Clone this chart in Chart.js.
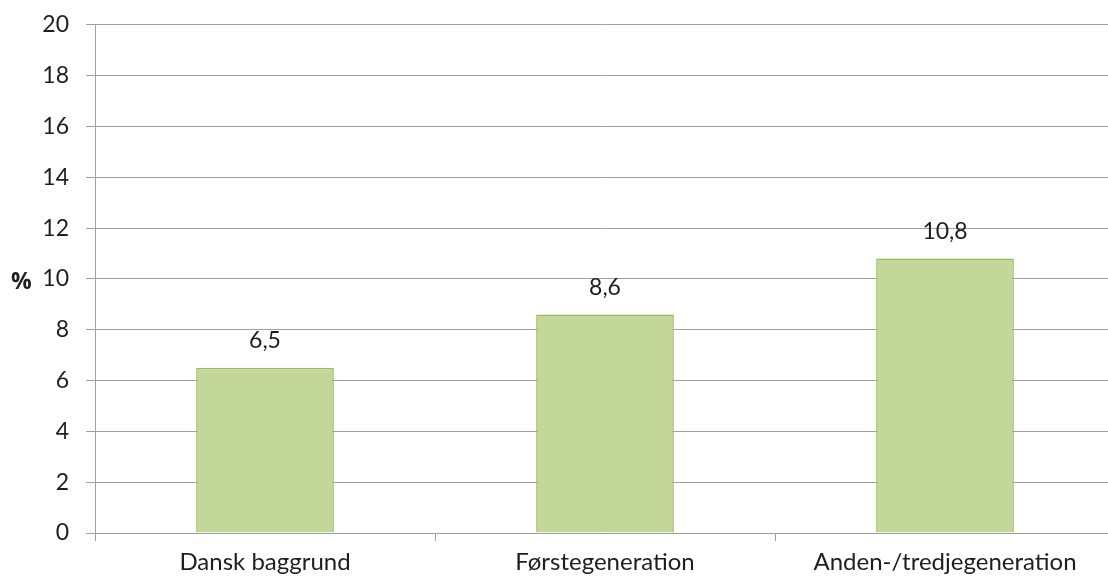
<!DOCTYPE html>
<html>
<head>
<meta charset="utf-8">
<script src="https://cdn.jsdelivr.net/npm/chart.js@4.4.1/dist/chart.umd.min.js"></script>
<style>
  html, body { margin: 0; padding: 0; background: #fff; overflow: hidden; }
  #wrap { width: 1120px; height: 585px; margin-top: -6px; }
  canvas { display: block; }
</style>
</head>
<body>
<div id="wrap"><canvas id="c" width="1120" height="585"></canvas></div>
<script>
const categories = ['Dansk baggrund', 'Førstegeneration', 'Anden-/tredjegeneration'];
const shares = [6.5, 8.6, 10.8];
const yTicks = [0, 2, 4, 6, 8, 10, 12, 14, 16, 18, 20];

const FONT = 'Lato, "Noto Sans", sans-serif';
const GRID = '#a0a0a0';
const TEXT = '#1e1e1e';

// Value labels above each bar, written with a decimal comma
const valueLabels = {
  id: 'valueLabels',
  afterDatasetsDraw(chart) {
    const ctx = chart.ctx;
    const meta = chart.getDatasetMeta(0);
    ctx.save();
    ctx.font = '23px ' + FONT;
    ctx.fillStyle = TEXT;
    ctx.textAlign = 'center';
    ctx.textBaseline = 'middle';
    meta.data.forEach((bar, i) => {
      ctx.fillText(String(shares[i]).replace('.', ','), bar.x, bar.y - 27);
    });
    ctx.restore();
  }
};

// Horizontal unit label next to the value axis
const unitLabel = {
  id: 'unitLabel',
  afterDraw(chart) {
    const ctx = chart.ctx;
    const y = chart.scales.y.getPixelForValue(10);
    ctx.save();
    ctx.font = 'bold 23px "Open Sans", "Noto Sans", sans-serif';
    ctx.fillStyle = TEXT;
    ctx.textAlign = 'left';
    ctx.textBaseline = 'middle';
    ctx.fillText('%', 11, y + 4);
    ctx.restore();
  }
};

new Chart(document.getElementById('c'), {
  type: 'bar',
  data: {
    labels: categories,
    datasets: [{
      data: shares,
      backgroundColor: '#c4d79b',
      borderColor: '#9bbb59',
      borderWidth: 1.5,
      barPercentage: 1,
      categoryPercentage: 0.405
    }]
  },
  options: {
    responsive: false,
    animation: false,
    layout: { padding: { top: 18, right: 5, bottom: 0, left: 0 } },
    plugins: { legend: { display: false }, tooltip: { enabled: false } },
    scales: {
      x: {
        grid: {
          offset: true,
          drawOnChartArea: false,
          drawTicks: true,
          tickLength: 8,
          color: GRID
        },
        border: { display: true, color: GRID },
        ticks: {
          color: TEXT,
          font: { family: FONT, size: 24 },
          padding: 7,
          maxRotation: 0
        },
        afterFit(s) { s.height = 46; }
      },
      y: {
        min: 0,
        max: 20,
        afterBuildTicks(s) { s.ticks = yTicks.map(v => ({ value: v })); },
        grid: { color: GRID, lineWidth: 1, tickLength: 9 },
        border: { display: true, color: GRID },
        ticks: {
          color: TEXT,
          font: { family: FONT, size: 23 },
          padding: 17
        },
        afterFit(s) { s.width = 95; }
      }
    }
  },
  plugins: [valueLabels, unitLabel]
});
</script>
</body>
</html>
